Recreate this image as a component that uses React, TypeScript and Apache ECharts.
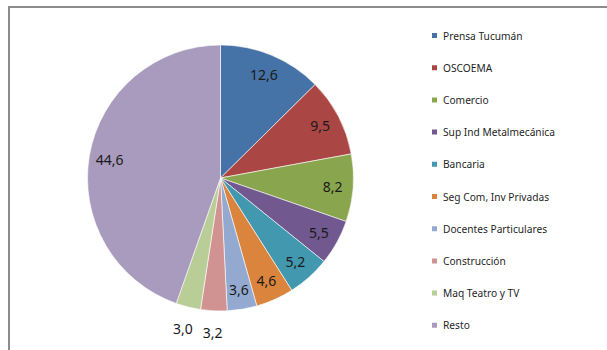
import React, { useEffect, useRef } from "react";
import * as echarts from "echarts";

const categories = [
  "Prensa Tucumán",
  "OSCOEMA",
  "Comercio",
  "Sup Ind Metalmecánica",
  "Bancaria",
  "Seg Com, Inv Privadas",
  "Docentes Particulares",
  "Construcción",
  "Maq Teatro y TV",
  "Resto",
];
const values = [12.6, 9.5, 8.2, 5.5, 5.2, 4.6, 3.6, 3.2, 3.0, 44.6];
const colors = [
  "#4572A7",
  "#AA4643",
  "#89A54E",
  "#71588F",
  "#4198AF",
  "#DB843D",
  "#93A9CF",
  "#D19392",
  "#B9CD96",
  "#A99BBD",
];
// slices whose value label sits outside the pie
const outsideLabels = ["Construcción", "Maq Teatro y TV"];

const fmt = (v: number) => v.toFixed(1).replace(".", ",");

export default function App() {
  const ref = useRef<HTMLDivElement>(null);
  useEffect(() => {
    if (!ref.current) return;
    const chart = echarts.init(ref.current, undefined, { renderer: "svg" });
    const center = [220.5, 178];
    const R = 133;
    const labelFont = {
      fontFamily: "Noto Sans",
      fontSize: 14,
      color: "#1a1a1a",
    };
    const mainData = categories.map((name, i) => ({
      name,
      value: values[i],
      itemStyle: { color: colors[i] },
    }));
    const innerLabelData = categories.map((name, i) => ({
      name,
      value: values[i],
      label: { show: !outsideLabels.includes(name) },
    }));
    const outerLabelData = categories.map((name, i) => ({
      name,
      value: values[i],
      label: { show: outsideLabels.includes(name) },
    }));
    const overlayCommon = {
      type: "pie" as const,
      center,
      startAngle: 90,
      clockwise: true,
      silent: true,
      avoidLabelOverlap: false,
      itemStyle: { color: "rgba(0,0,0,0)", borderWidth: 0 },
      emphasis: { disabled: true },
      labelLine: { show: false },
      label: {
        position: "inside" as const,
        formatter: (p: any) => fmt(p.value),
        ...labelFont,
      },
    };
    chart.setOption({
      animation: false,
      backgroundColor: "#ffffff",
      legend: {
        orient: "vertical",
        left: 425,
        top: 24.5,
        itemWidth: 7,
        itemHeight: 7,
        itemGap: 20.2,
        icon: "rect",
        data: categories,
        selectedMode: false,
        textStyle: {
          fontFamily: "Noto Sans",
          fontSize: 10.2,
          lineHeight: 12,
          color: "#1f1f1f",
        },
      },
      graphic: [
        {
          type: "rect",
          shape: { x: 9, y: 7, width: 700, height: 500 },
          style: { fill: "none", stroke: "#8c8c8c", lineWidth: 2 },
          silent: true,
        },
      ],
      series: [
        {
          type: "pie",
          center,
          radius: R,
          startAngle: 90,
          clockwise: true,
          avoidLabelOverlap: false,
          label: { show: false },
          labelLine: { show: false },
          emphasis: { disabled: true },
          itemStyle: { borderColor: "#ffffff", borderWidth: 0.6 },
          data: mainData,
        },
        { ...overlayCommon, radius: [86, R], data: innerLabelData },
        { ...overlayCommon, radius: [R, 171], data: outerLabelData },
      ],
    });
    return () => chart.dispose();
  }, []);
  return (
    <div
      ref={ref}
      style={{ position: "fixed", left: 0, top: 0, width: 607, height: 350 }}
    />
  );
}
